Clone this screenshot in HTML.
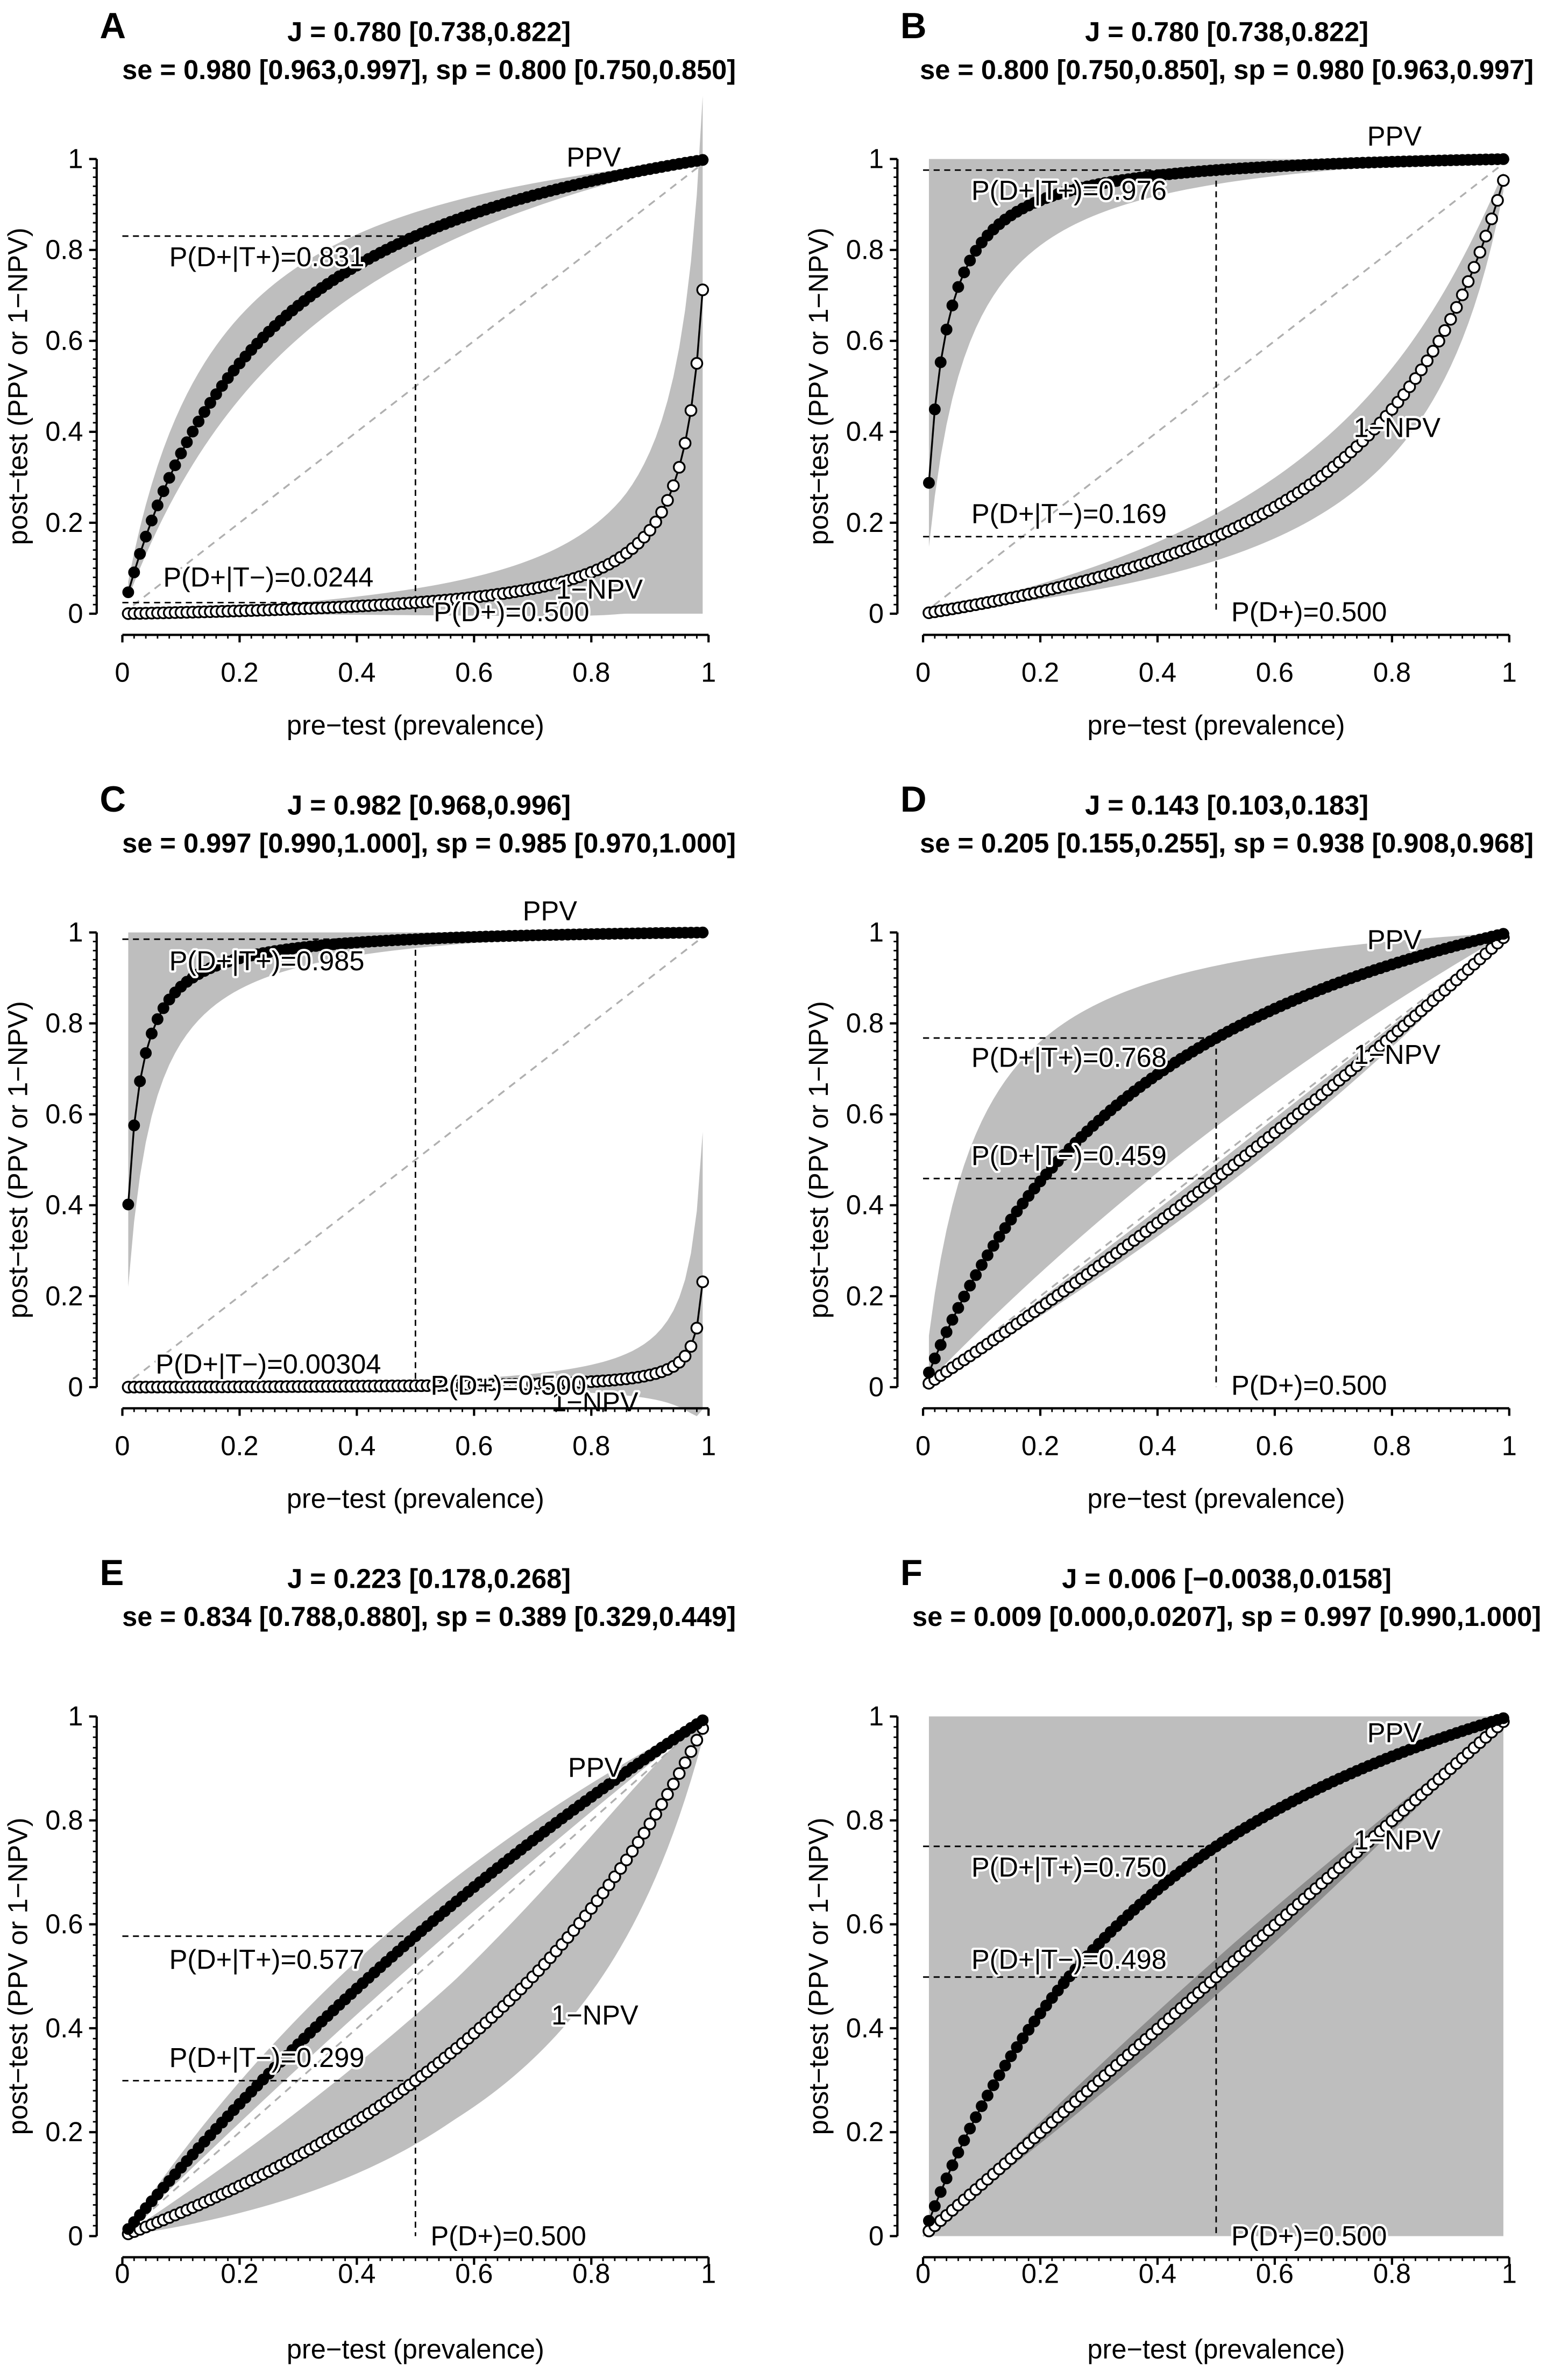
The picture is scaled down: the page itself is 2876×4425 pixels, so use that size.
<!DOCTYPE html>
<html><head><meta charset="utf-8">
<style>
html,body{margin:0;padding:0;background:#fff;}
svg{display:block;}
text{font-family:"Liberation Sans",Arial,sans-serif;fill:#000;}
.halo{paint-order:stroke;stroke:#fff;stroke-width:3px;stroke-linejoin:round;}
</style></head>
<body>
<svg id="fig" xmlns="http://www.w3.org/2000/svg" width="2876" height="4425" viewBox="0 0 1024 1575"></svg>
<script>
// ---- data ----
var panelLetters = ["A","B","C","D","E","F"];
var titleJ = ["J = 0.780 [0.738,0.822]","J = 0.780 [0.738,0.822]","J = 0.982 [0.968,0.996]","J = 0.143 [0.103,0.183]","J = 0.223 [0.178,0.268]","J = 0.006 [\u22120.0038,0.0158]"];
var titleSeSp = ["se = 0.980 [0.963,0.997], sp = 0.800 [0.750,0.850]","se = 0.800 [0.750,0.850], sp = 0.980 [0.963,0.997]","se = 0.997 [0.990,1.000], sp = 0.985 [0.970,1.000]","se = 0.205 [0.155,0.255], sp = 0.938 [0.908,0.968]","se = 0.834 [0.788,0.880], sp = 0.389 [0.329,0.449]","se = 0.009 [0.000,0.0207], sp = 0.997 [0.990,1.000]"];
var seVal = [0.980,0.800,0.997,0.205,0.834,0.009];
var seLo  = [0.963,0.750,0.990,0.155,0.788,0.000];
var seHi  = [0.997,0.850,1.000,0.255,0.880,0.0207];
var spVal = [0.800,0.980,0.985,0.938,0.389,0.997];
var spLo  = [0.750,0.963,0.970,0.908,0.329,0.990];
var spHi  = [0.850,0.997,1.000,0.968,0.449,1.000];
var prevalence = [];
for (var i = 1; i <= 99; i++) prevalence.push(i / 100);
var refPrev = 0.5;
var ppvLabels = ["P(D+|T+)=0.831","P(D+|T+)=0.976","P(D+|T+)=0.985","P(D+|T+)=0.768","P(D+|T+)=0.577","P(D+|T+)=0.750"];
var npvLabels = ["P(D+|T\u2212)=0.0244","P(D+|T\u2212)=0.169","P(D+|T\u2212)=0.00304","P(D+|T\u2212)=0.459","P(D+|T\u2212)=0.299","P(D+|T\u2212)=0.498"];
var tickValues = [0,0.2,0.4,0.6,0.8,1];
var tickLabels = ["0","0.2","0.4","0.6","0.8","1"];
var bandWiden = 1.35;
var npvBandColor = ["#bebebe","#bebebe","#bebebe","#bebebe","#bebebe","#8e8e8e"];

// ---- layout ----
var layout = [
 {x0:81,x1:469,y0:406,y1:105,ax:64,xl:420,t1:27,t2:52,tc:284,tk:451,xt:486,ppv:[375,110],npv:[368,396],lp:[112,176],ln:[108,388],lr:[287,411]},
 {x0:611,x1:999,y0:406,y1:105,ax:594,xl:420,t1:27,t2:52,tc:812,tk:451,xt:486,ppv:[905,96],npv:[896,289],lp:[643,132],ln:[643,346],lr:[815,411]},
 {x0:81,x1:469,y0:918,y1:617,ax:64,xl:932,t1:539,t2:564,tc:284,tk:963,xt:998,ppv:[346,609],npv:[365,934],lp:[112,642],ln:[103,909],lr:[285,923]},
 {x0:611,x1:999,y0:918,y1:617,ax:594,xl:932,t1:539,t2:564,tc:812,tk:963,xt:998,ppv:[905,628],npv:[896,704],lp:[643,706],ln:[643,771],lr:[815,923]},
 {x0:81,x1:469,y0:1480,y1:1136,ax:64,xl:1494,t1:1051,t2:1076,tc:284,tk:1511,xt:1561,ppv:[376,1176],npv:[365,1340],lp:[112,1303],ln:[112,1368],lr:[285,1486]},
 {x0:611,x1:999,y0:1480,y1:1136,ax:594,xl:1494,t1:1051,t2:1076,tc:812,tk:1511,xt:1561,ppv:[905,1153],npv:[896,1224],lp:[643,1242],ln:[643,1303],lr:[815,1486]}
];
var NS = "http://www.w3.org/2000/svg";
var svg = document.getElementById("fig");
function mk(tag, attrs, parent){
  var e = document.createElementNS(NS, tag);
  for (var k in attrs) e.setAttribute(k, attrs[k]);
  (parent||svg).appendChild(e);
  return e;
}
function clamp(v){ return Math.max(0, Math.min(1, v)); }
function wid(est, b){ return clamp(est + (b - est) * bandWiden); }
function ppvF(p, se, sp){ var a = se*p, b = (1-sp)*(1-p); return (a+b)===0?0:a/(a+b); }
function npvF(p, se, sp){ var a = (1-se)*p, b = sp*(1-p); return (a+b)===0?0:a/(a+b); }

for (var k = 0; k < 6; k++) {
  var L = layout[k];
  var g = mk("g", {});
  
  
  var sx = (function(L){return function(v){return L.x0 + v*(L.x1-L.x0);};})(L);
  var sy = (function(L){return function(v){return L.y0 - v*(L.y0-L.y1);};})(L);
  var sL = wid(seVal[k], seLo[k]), sH = wid(seVal[k], seHi[k]);
  var pLw = wid(spVal[k], spLo[k]), pHi = wid(spVal[k], spHi[k]);

  // bands
  var up = [], lo = [], up2 = [], lo2 = [];
  prevalence.forEach(function(p){
    up.push(sx(p)+","+sy(ppvF(p, sH, pHi)));
    lo.unshift(sx(p)+","+sy(ppvF(p, sL, pLw)));
    var a = npvF(p, sL, pLw), b = npvF(p, sH, pHi), c = npvF(p, seVal[k], spVal[k]);
    var hw = Math.max(Math.abs(a-b)/2, k===5 ? 0.035*Math.sin(Math.PI*p) : 0);
    up2.push(sx(p)+","+sy(Math.max(a, c+hw)));
    lo2.unshift(sx(p)+","+sy(Math.min(b, c-hw)));
  });
  var b1 = mk("polygon", {points: up.concat(lo).join(" "), fill:"#bebebe"}, g);
  
  
  var b2 = mk("polygon", {points: up2.concat(lo2).join(" "), fill:npvBandColor[k]}, g);
  
  

  // diagonal
  var dg = mk("line", {x1:sx(0),y1:sy(0),x2:sx(1),y2:sy(1),stroke:"#b0b0b0","stroke-width":1.2,"stroke-dasharray":"5,4"}, g);
  
  

  // reference dashed lines
  var pv = ppvF(refPrev, seVal[k], spVal[k]), nv = npvF(refPrev, seVal[k], spVal[k]);
  var h1 = mk("line", {x1:sx(0),y1:sy(pv),x2:sx(refPrev),y2:sy(pv),stroke:"#000","stroke-width":1,"stroke-dasharray":"4,3"}, g);
  
  
  var h2 = mk("line", {x1:sx(0),y1:sy(nv),x2:sx(refPrev),y2:sy(nv),stroke:"#000","stroke-width":1,"stroke-dasharray":"4,3"}, g);
  
  
  var v1 = mk("line", {x1:sx(refPrev),y1:sy(Math.max(pv,nv)),x2:sx(refPrev),y2:sy(0),stroke:"#000","stroke-width":1,"stroke-dasharray":"4,3"}, g);
  
  

  // series
  var pl1 = [], pl2 = [];
  prevalence.forEach(function(p){
    pl1.push(sx(p)+","+sy(ppvF(p, seVal[k], spVal[k])));
    pl2.push(sx(p)+","+sy(npvF(p, seVal[k], spVal[k])));
  });
  var l2 = mk("polyline", {points: pl2.join(" "), fill:"none", stroke:"#000","stroke-width":1.2}, g);
  
  
  prevalence.forEach(function(p){
    var c = mk("circle", {cx:sx(p), cy:sy(npvF(p, seVal[k], spVal[k])), r:3.6, fill:"#fff", stroke:"#000","stroke-width":1.2}, g);
    
    
  });
  var l1 = mk("polyline", {points: pl1.join(" "), fill:"none", stroke:"#000","stroke-width":1.2}, g);
  
  
  prevalence.forEach(function(p){
    var c = mk("circle", {cx:sx(p), cy:sy(ppvF(p, seVal[k], spVal[k])), r:3.6, fill:"#000", stroke:"#000","stroke-width":0.6}, g);
    
    
  });

  // annotation labels
  var ann = [["PPV",L.ppv,"ppv-label"],["1\u2212NPV",L.npv,"npv-label"],[ppvLabels[k],L.lp,"ppv-value-label"],[npvLabels[k],L.ln,"npv-value-label"],["P(D+)=0.500",L.lr,"prevalence-label"]];
  ann.forEach(function(a){
    var t = mk("text", {x:a[1][0], y:a[1][1], "font-size":18, "class":"halo"}, g);
    t.textContent = a[0];
    
    
  });

  // axes
  var ya = mk("line", {x1:L.ax,y1:sy(0),x2:L.ax,y2:sy(1),stroke:"#000","stroke-width":1.5}, g);
  
  
  var xa = mk("line", {x1:sx(0),y1:L.xl,x2:sx(1),y2:L.xl,stroke:"#000","stroke-width":1.5}, g);
  
  
  for (var m = 0; m <= 50; m++) {
    var v = m/50, major = (m % 10 === 0), len = major ? 5 : 2.5;
    mk("line", {x1:sx(v),y1:L.xl,x2:sx(v),y2:L.xl+len,stroke:"#000","stroke-width":major?1.5:1}, g);
    mk("line", {x1:L.ax,y1:sy(v),x2:L.ax-len,y2:sy(v),stroke:"#000","stroke-width":major?1.5:1}, g);
  }
  tickValues.forEach(function(v, j){
    var tx = mk("text", {x:sx(v), y:L.tk, "font-size":18, "text-anchor":"middle"}, g);
    tx.textContent = tickLabels[j];
    
    
    var ty = mk("text", {x:L.ax-9, y:sy(v)+6, "font-size":18, "text-anchor":"end"}, g);
    ty.textContent = tickLabels[j];
    
    
  });
  var xt = mk("text", {x:(sx(0)+sx(1))/2, y:L.xt, "font-size":18, "text-anchor":"middle"}, g);
  xt.textContent = "pre\u2212test (prevalence)";
  
  
  var cy = (sy(0)+sy(1))/2, cx = L.ax - 46;
  var yt = mk("text", {x:cx, y:cy, "font-size":18, "text-anchor":"middle", transform:"rotate(-90 "+cx+" "+cy+")"}, g);
  yt.textContent = "post\u2212test (PPV or 1\u2212NPV)";
  
  

  // titles
  var t1 = mk("text", {x:L.tc, y:L.t1, "font-size":18, "font-weight":"bold", "text-anchor":"middle"}, g);
  t1.textContent = titleJ[k];
  
  
  var t2 = mk("text", {x:L.tc, y:L.t2, "font-size":18, "font-weight":"bold", "text-anchor":"middle"}, g);
  t2.textContent = titleSeSp[k];
  
  
  var pl = mk("text", {x:L.ax+2, y:L.t1-2, "font-size":24, "font-weight":"bold"}, g);
  pl.textContent = panelLetters[k];
  
  
}
</script>
</body></html>
